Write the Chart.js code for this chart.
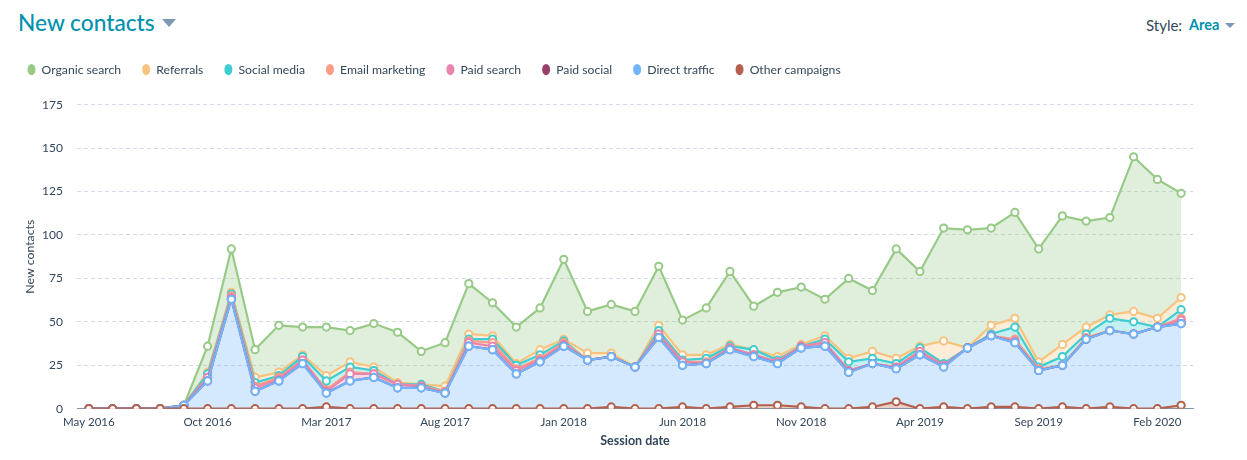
<!DOCTYPE html>
<html><head><meta charset="utf-8">
<script src="https://cdn.jsdelivr.net/npm/chart.js@4/dist/chart.umd.min.js"></script>
<style>
html,body{margin:0;padding:0;background:#fff;width:1247px;height:460px;overflow:hidden;font-family:Lato,sans-serif}
#wrap{position:relative;width:1247px;height:460px}
canvas{position:absolute;left:0;top:0}
.h{position:absolute;white-space:nowrap}
#title{left:18px;top:8px;font-size:22.7px;font-weight:500;color:#0091ae;line-height:30px}
#tri1{left:162px;top:19px;width:0;height:0;border-left:7px solid transparent;border-right:7px solid transparent;border-top:8px solid #7c98b6}
#style{left:1146px;top:16px;font-size:15px;color:#33475b;line-height:18px}
#area{left:1189px;top:16px;font-size:14.5px;font-weight:700;color:#0091ae;line-height:18px}
#tri2{left:1225px;top:23px;width:0;height:0;border-left:5px solid transparent;border-right:5px solid transparent;border-top:5px solid #7c98b6}
</style></head><body>
<div id="wrap">
<div class="h" id="title">New contacts</div><div class="h" id="tri1"></div>
<div class="h" id="style">Style:</div><div class="h" id="area">Area</div><div class="h" id="tri2"></div>
<canvas id="c" width="1247" height="460"></canvas>
</div>
<script>
const months=["May 2016","Jun 2016","Jul 2016","Aug 2016","Sep 2016","Oct 2016","Nov 2016","Dec 2016","Jan 2017","Feb 2017","Mar 2017","Apr 2017","May 2017","Jun 2017","Jul 2017","Aug 2017","Sep 2017","Oct 2017","Nov 2017","Dec 2017","Jan 2018","Feb 2018","Mar 2018","Apr 2018","May 2018","Jun 2018","Jul 2018","Aug 2018","Sep 2018","Oct 2018","Nov 2018","Dec 2018","Jan 2019","Feb 2019","Mar 2019","Apr 2019","May 2019","Jun 2019","Jul 2019","Aug 2019","Sep 2019","Oct 2019","Nov 2019","Dec 2019","Jan 2020","Feb 2020","Mar 2020"];
const otherCampaigns=[0,0,0,0,0,0,0,0,0,0,1,0,0,0,0,0,0,0,0,0,0,0,1,0,0,1,0,1,2,2,1,0,0,1,4,0,1,0,1,1,0,1,0,1,0,0,2];
const directTraffic=[0,0,0,0,2,16,63,10,16,26,8,16,18,12,12,9,36,34,20,27,36,28,29,24,41,24,26,33,28,24,34,36,21,25,19,31,23,35,41,37,22,24,40,44,43,47,47];
const paidSocial=[0,0,0,0,0,0,0,0,0,0,0,0,0,0,0,0,0,0,0,0,0,0,0,0,0,0,0,0,0,0,0,0,0,0,0,0,0,0,0,0,0,0,0,0,0,0,0];
const paidSearch=[0,0,0,0,0,2,1,2,1,2,1,4,2,2,1,0,2,2,2,1,1,0,0,0,2,2,0,1,1,1,1,2,1,0,1,2,1,0,0,1,0,0,0,0,0,0,2];
const emailMarketing=[0,0,0,0,0,0,1,1,1,0,1,1,0,0,0,1,1,2,1,1,1,0,0,0,0,0,1,0,0,0,0,0,0,0,0,0,0,0,0,1,1,0,1,0,0,0,1];
const socialMedia=[0,0,0,0,0,2,1,2,1,2,5,3,2,0,1,0,1,2,2,2,1,0,0,0,2,1,2,1,3,1,0,2,5,3,2,2,1,0,1,7,1,5,2,7,7,0,5];
const referrals=[0,0,0,0,0,1,1,3,2,1,3,3,2,1,0,3,3,2,1,3,1,4,2,0,3,3,2,1,0,2,1,2,2,4,3,1,13,0,5,5,3,7,4,2,6,5,7];
const organicSearch=[0,0,0,0,0,15,25,16,27,16,28,18,25,29,19,25,29,19,21,24,46,24,28,32,34,20,27,42,25,37,33,21,46,35,63,43,65,68,56,61,65,74,61,56,89,80,60];
const yTicks=[0,25,50,75,100,125,150,175];
const ink="#33475b";
function ds(label,data,color,idx){
  return {label,data,borderColor:color,backgroundColor:color+"4d",pointBackgroundColor:"#fff",pointBorderColor:color,
    pointBorderWidth:2,pointRadius:3.6,pointHoverRadius:3.6,borderWidth:2.2,tension:0,fill:idx===0?"origin":"-1"};
}
const series=[["Other campaigns",otherCampaigns,"#b5604c"],["Direct traffic",directTraffic,"#70b5fd"],["Paid social",paidSocial,"#9b3f6b"],["Paid search",paidSearch,"#ea86ae"],["Email marketing",emailMarketing,"#ff9c85"],["Social media",socialMedia,"#3ecdd1"],["Referrals",referrals,"#f8c27f"],["Organic search",organicSearch,"#98ca87"]];
const shiftLegend={id:"shiftLegend",afterLayout(chart){chart.legend.left+=6.5;chart.legend.top-=19;}};
new Chart(document.getElementById("c"),{
  type:"line",
  data:{labels:months,datasets:series.map((s,i)=>ds(s[0],s[1],s[2],i))},
  plugins:[shiftLegend],
  options:{
    responsive:false,animation:false,devicePixelRatio:1,
    layout:{padding:{top:61.5,left:0,right:54,bottom:12}},
    plugins:{
      tooltip:{enabled:false},
      legend:{
        position:"top",align:"start",reverse:true,
        labels:{
          usePointStyle:true,pointStyle:"circle",boxWidth:8,boxHeight:8,pointStyleWidth:8,padding:21,color:ink,
          font:{family:"Lato",size:12.2},
          generateLabels(chart){
            return Chart.defaults.plugins.legend.labels.generateLabels(chart).map(it=>{
              const c=series[it.datasetIndex][2];
              return Object.assign(it,{fillStyle:c,strokeStyle:c,lineWidth:0,pointStyle:"circle"});
            });
          }
        }
      }
    },
    scales:{
      x:{
        type:"category",stacked:true,offset:true,
        grid:{display:false,drawTicks:false},
        border:{color:"#7c98b6",width:1},
        ticks:{autoSkip:false,maxRotation:0,minRotation:0,color:ink,font:{family:"Lato",size:11.5},padding:7,
          callback(v,i){return i%5===0?months[i]:"";}},
        title:{display:true,text:"Session date",color:ink,font:{family:"Lato",size:12.5,weight:"700"},padding:{top:-3.5,bottom:0}}
      },
      y:{
        stacked:true,min:0,max:175,
        afterFit(s){s.width=77;},
        afterBuildTicks(s){s.ticks=yTicks.map(v=>({value:v}));},
        grid:{color:"#d3dbe8",drawTicks:false,tickLength:0},
        border:{display:false,dash:[4,3]},
        ticks:{color:ink,font:{family:"Lato",size:12},padding:14},
        title:{display:true,text:"New contacts",color:ink,font:{family:"Lato",size:12.3},padding:{top:23,bottom:0}}
      }
    }
  }
});
</script>
</body></html>
